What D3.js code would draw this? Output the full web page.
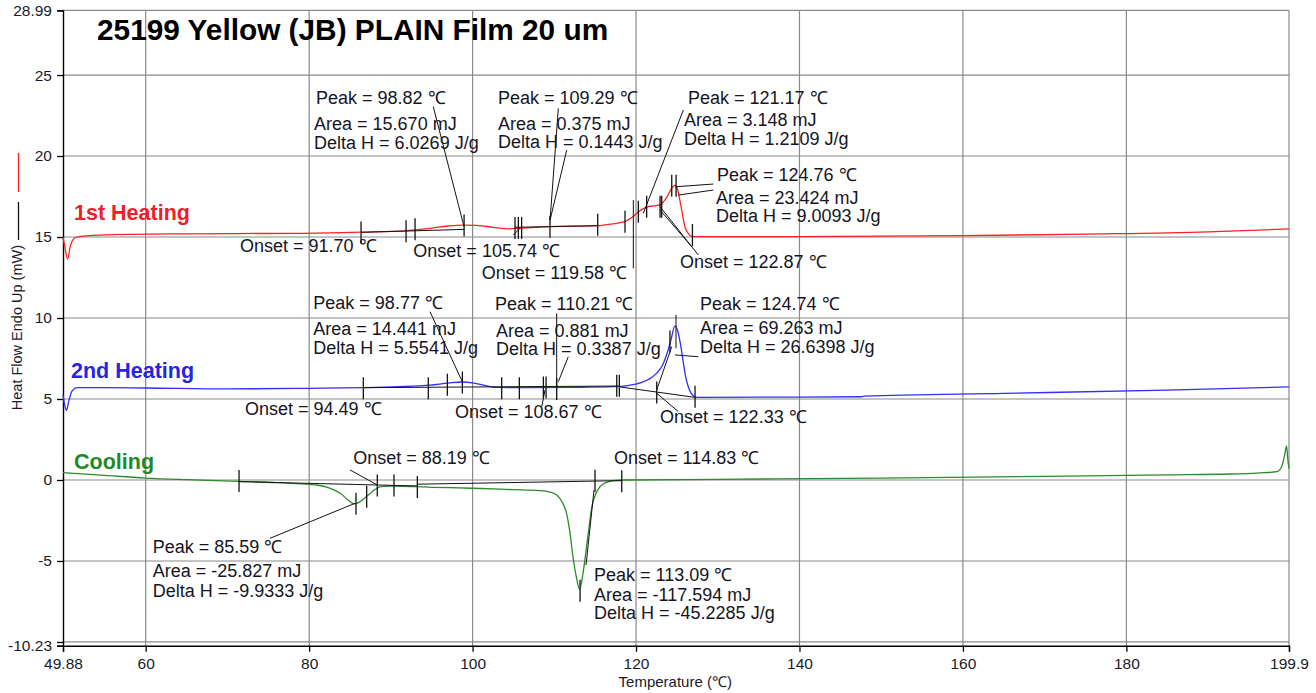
<!DOCTYPE html>
<html><head><meta charset="utf-8">
<script src="https://cdn.jsdelivr.net/npm/d3@7"></script>
<style>
body{margin:0;background:#fff;}
svg{display:block;font-family:"Liberation Sans",Arial,sans-serif;}
</style></head><body>
<script>
// ---------- data ----------
const chartTitle = "25199 Yellow (JB) PLAIN Film 20 um";
const xLabel = "Temperature (℃)";
const yLabel = "Heat Flow Endo Up (mW)";
const xTicks = [49.88, 60, 80, 100, 120, 140, 160, 180, 199.9];
const xTickLabels = ["49.88", "60", "80", "100", "120", "140", "160", "180", "199.9"];
const yTicks = [28.99, 25, 20, 15, 10, 5, 0, -5, -10, -10.23];
const yTickLabels = ["28.99", "25", "20", "15", "10", "5", "0", "-5", "", "-10.23"];
const xGrid = [60, 80, 100, 120, 140, 160, 180, 199.9];
const yGrid = [28.99, 25, 20, 15, 10, 5, 0, -5, -10];

// [temperature °C, heat flow mW]
const heat1 = [[49.88,15.0],[50.1,14.4],[50.45,13.65],[50.8,14.5],[51.2,14.9],[51.6,15.0],[53,15.08],[56,15.15],[65,15.2],[79,15.23],[86.4,15.3],[92,15.4],[95,15.55],[97,15.68],[98.8,15.74],[100.5,15.72],[102.5,15.6],[104.5,15.5],[106,15.55],[109.5,15.64],[115.3,15.7],[117,15.8],[118.6,15.95],[119.6,16.25],[120.4,16.6],[121.3,16.85],[122.2,16.92],[123.0,17.0],[123.8,17.5],[124.5,18.1],[124.8,18.2],[125.1,17.9],[125.5,16.9],[126.0,15.6],[126.5,15.15],[126.9,15.03],[140,15.03],[160,15.08],[175,15.18],[190,15.32],[199.9,15.5]];
const heat2 = [[49.88,5.25],[50.1,4.6],[50.3,4.3],[50.6,4.9],[51.0,5.5],[51.6,5.7],[55,5.7],[60,5.68],[70,5.62],[80,5.66],[86.6,5.7],[91,5.76],[94.8,5.86],[97,5.98],[98.7,6.05],[100,6.0],[101.3,5.86],[103,5.72],[107,5.70],[112,5.72],[117.2,5.76],[119,5.83],[120.1,5.93],[121.5,6.2],[122.5,6.58],[123.3,7.15],[123.8,7.82],[124.3,8.7],[124.74,9.5],[125.1,9.2],[125.5,8.2],[125.8,7.2],[126.1,6.3],[126.5,5.6],[127.0,5.2],[127.5,5.1],[140,5.12],[147.5,5.14],[148,5.18],[165,5.35],[185,5.55],[199.9,5.75]];
const cooling = [[49.88,0.45],[55,0.28],[60,0.12],[65,0.02],[71.5,-0.08],[76,-0.16],[79,-0.24],[80.9,-0.31],[82.5,-0.5],[83.8,-0.82],[84.8,-1.25],[85.5,-1.48],[86.2,-1.35],[87.0,-1.03],[87.7,-0.72],[88.3,-0.51],[89,-0.4],[90.3,-0.37],[95,-0.45],[100,-0.51],[105,-0.6],[108.2,-0.66],[109.5,-0.75],[110.3,-0.93],[111.0,-1.4],[111.5,-2.06],[111.9,-3.2],[112.3,-4.8],[112.7,-6.0],[113.1,-6.75],[113.5,-5.8],[113.95,-4.1],[114.3,-2.7],[114.6,-1.65],[115.0,-0.95],[115.6,-0.41],[116.4,-0.15],[117.2,-0.04],[118.5,0.0],[130,0.04],[150,0.12],[170,0.22],[185,0.32],[192.7,0.37],[197,0.45],[198.4,0.51],[199.0,0.82],[199.35,1.5],[199.6,2.1],[199.75,1.3],[199.9,0.7]];

const seriesNames = ["1st Heating", "2nd Heating", "Cooling"];
const seriesLabelAt = [[51.23,16.05],[50.86,6.30],[51.23,0.66]];

// annotation text: [temperature, heat flow, text]
const annotationText = [
  [80.84,23.21,"Peak = 98.82 ℃"],[80.60,21.60,"Area = 15.670 mJ"],[80.60,20.46,"Delta H = 6.0269 J/g"],
  [103.11,23.21,"Peak = 109.29 ℃"],[103.11,21.60,"Area = 0.375 mJ"],[103.11,20.49,"Delta H = 0.1443 J/g"],
  [126.36,23.21,"Peak = 121.17 ℃"],[125.87,21.88,"Area = 3.148 mJ"],[125.87,20.70,"Delta H = 1.2109 J/g"],
  [129.91,18.48,"Peak = 124.76 ℃"],[129.79,17.04,"Area = 23.424 mJ"],[129.79,15.94,"Delta H = 9.0093 J/g"],
  [71.54,14.10,"Onset = 91.70 ℃"],[92.75,13.78,"Onset = 105.74 ℃"],[101.12,12.41,"Onset = 119.58 ℃"],[125.38,13.07,"Onset = 122.87 ℃"],
  [80.51,10.54,"Peak = 98.77 ℃"],[80.51,8.95,"Area = 14.441 mJ"],[80.51,7.78,"Delta H = 5.5541 J/g"],
  [102.74,10.49,"Peak = 110.21 ℃"],[102.87,8.85,"Area = 0.881 mJ"],[102.87,7.72,"Delta H = 0.3387 J/g"],
  [127.83,10.49,"Peak = 124.74 ℃"],[127.83,8.99,"Area = 69.263 mJ"],[127.83,7.82,"Delta H = 26.6398 J/g"],
  [72.15,4.01,"Onset = 94.49 ℃"],[97.85,3.81,"Onset = 108.67 ℃"],[122.94,3.54,"Onset = 122.33 ℃"],
  [85.40,0.99,"Onset = 88.19 ℃"],[117.31,0.96,"Onset = 114.83 ℃"],
  [60.86,-4.52,"Peak = 85.59 ℃"],[60.86,-6.01,"Area = -25.827 mJ"],[60.86,-7.20,"Delta H = -9.9333 J/g"],
  [114.86,-6.23,"Peak = 113.09 ℃"],[114.86,-7.44,"Area = -117.594 mJ"],[114.86,-8.58,"Delta H = -45.2285 J/g"]
];

// analysis tick marks: [temperature, heat flow at centre]
const marks1 = [[86.35,15.28],[91.86,15.35],[92.96,15.48],[98.96,15.71],[105.19,15.56],[105.6,15.56],[106.0,15.56],[109.47,15.64],[115.31,15.76],[118.65,15.95],[120.28,16.56],[121.3,16.87],[122.94,16.87],[123.14,16.87],[124.37,18.16],[124.9,18.16],[126.9,15.12]];
const marks2 = [[86.63,5.66],[94.58,5.66],[96.91,5.88],[98.75,6.02],[103.56,5.66],[105.72,5.66],[108.66,5.71],[108.99,5.71],[110.29,5.62],[117.64,5.82],[117.96,5.82],[122.53,5.40],[124.15,8.55],[127.22,5.14]];
const marks3 = [[71.42,-0.06],[85.73,-1.47],[87.04,-1.03],[88.34,-0.34],[90.38,-0.34],[93.24,-0.44],[114.98,-0.05],[118.25,-0.08],[113.15,-6.84]];

// baselines and leader lines: [t1, v1, t2, v2]
const leaderLines = [
  [86.35,15.29,98.96,15.47],[105.2,15.6,115.3,15.7],
  [95.19,23.04,98.95,15.64],[110.49,22.94,109.48,16.05],[111.52,20.37,109.48,16.05],
  [104.98,15.12,105.80,15.54],[125.79,22.84,120.89,16.46],
  [129.46,18.27,124.77,18.10],[129.46,17.90,125.18,17.59],
  [122.94,16.87,127.62,13.89],[122.94,16.67,126.82,14.40],[119.67,17.28,119.67,13.07],
  [86.63,5.70,118.04,5.80],[117.83,5.76,127.22,5.10],
  [94.79,10.39,98.74,6.07],[110.29,10.29,110.29,5.76],[111.71,7.61,110.49,6.07],
  [108.46,4.52,108.86,5.56],[124.37,8.23,122.53,5.56],[124.77,7.72,127.62,7.61],
  [122.53,5.35,125.18,4.22],[124.89,10.19,124.89,8.13],
  [71.42,-0.10,88.34,-0.31],[88.34,-0.31,93.24,-0.37],[93.24,-0.26,118.25,-0.04],
  [113.88,-5.25,114.86,-0.62],[75.21,-3.60,85.61,-1.44],[85.0,0.62,88.34,-0.31]
];

// ---------- drawing ----------
const W = 1316, H = 693;
const x = d3.scaleLinear().domain([49.88, 199.9]).range([63, 1289]);
const y = d3.scaleLinear().domain([-10.23, 28.99]).range([645.7, 10.4]);

const svg = d3.select("body").append("svg").attr("width", W).attr("height", H);

const gridColor = "#8a8a8a";
// grid
svg.append("g").selectAll("line").data(xGrid).join("line")
  .attr("x1", d => x(d)).attr("x2", d => x(d)).attr("y1", y(28.99)).attr("y2", y(-10.23))
  .attr("stroke", gridColor).attr("stroke-width", 1.2);
svg.append("g").selectAll("line").data(yGrid).join("line")
  .attr("x1", x(49.88)).attr("x2", x(199.9)).attr("y1", d => y(d)).attr("y2", d => y(d))
  .attr("stroke", gridColor).attr("stroke-width", 1.2);

// axes
const xAxis = d3.axisBottom(x).tickValues(xTicks).tickSize(6).tickPadding(6)
  .tickFormat((d, i) => xTickLabels[i]);
const gx = svg.append("g").attr("transform", `translate(0,${y(-10.23)})`).call(xAxis);
const yAxis = d3.axisLeft(y).tickValues(yTicks).tickSize(6).tickPadding(5)
  .tickFormat((d, i) => yTickLabels[i]);
const gy = svg.append("g").attr("transform", `translate(${x(49.88)},0)`).call(yAxis);
[gx, gy].forEach(g => {
  g.select(".domain").attr("stroke", "#000").attr("stroke-width", 1.4);
  g.selectAll(".tick line").attr("stroke", "#000").attr("stroke-width", 1.3);
  g.selectAll("text").attr("font-size", 15.5).attr("fill", "#1a1a2a")
    .attr("font-family", "'Liberation Sans', Arial, sans-serif");
});

// curves
const line = d3.line().x(d => x(d[0])).y(d => y(d[1])).curve(d3.curveMonotoneX);
const curves = [[heat1, "#ff2020"], [heat2, "#2f2fff"], [cooling, "#2a8c2a"]];
svg.append("g").selectAll("path").data(curves).join("path")
  .attr("d", d => line(d[0])).attr("fill", "none")
  .attr("stroke", d => d[1]).attr("stroke-width", 1.3);

// leaders & baselines
svg.append("g").selectAll("line").data(leaderLines).join("line")
  .attr("x1", d => x(d[0])).attr("y1", d => y(d[1]))
  .attr("x2", d => x(d[2])).attr("y2", d => y(d[3]))
  .attr("stroke", "#111").attr("stroke-width", 1);

// tick marks
const TL = 11;
svg.append("g").selectAll("line").data(marks1.concat(marks2, marks3)).join("line")
  .attr("x1", d => x(d[0])).attr("x2", d => x(d[0]))
  .attr("y1", d => y(d[1]) - TL).attr("y2", d => y(d[1]) + TL)
  .attr("stroke", "#111").attr("stroke-width", 1.3);

// annotation texts
svg.append("g").selectAll("text").data(annotationText).join("text")
  .attr("x", d => x(d[0])).attr("y", d => y(d[1]))
  .attr("font-size", 18).attr("fill", "#15151f").text(d => d[2]);

// series labels
const seriesColors = ["#ec2127", "#2525e6", "#1f8a25"];
svg.append("g").selectAll("text").data(seriesNames).join("text")
  .attr("x", (d, i) => x(seriesLabelAt[i][0])).attr("y", (d, i) => y(seriesLabelAt[i][1]))
  .attr("font-size", 21.5).attr("font-weight", "bold")
  .attr("fill", (d, i) => seriesColors[i]).text(d => d);

// title
svg.append("text").attr("x", 97).attr("y", 40).attr("font-size", 29.8)
  .attr("font-weight", "bold").attr("fill", "#000").text(chartTitle);

// axis titles
svg.append("text").attr("x", x(124.8)).attr("y", 687).attr("text-anchor", "middle")
  .attr("font-size", 15).attr("fill", "#1a1a2a").text(xLabel);
svg.append("text").attr("transform", "translate(22,245) rotate(-90)").attr("text-anchor", "end")
  .attr("font-size", 14.5).attr("fill", "#1a1a2a").text(yLabel);
// legend strokes next to y label
svg.append("line").attr("x1", 18.5).attr("x2", 18.5).attr("y1", 153).attr("y2", 192)
  .attr("stroke", "#ff2020").attr("stroke-width", 1.3);
svg.append("line").attr("x1", 18.5).attr("x2", 18.5).attr("y1", 202).attr("y2", 240)
  .attr("stroke", "#111").attr("stroke-width", 1.3);
</script>
</body></html>
